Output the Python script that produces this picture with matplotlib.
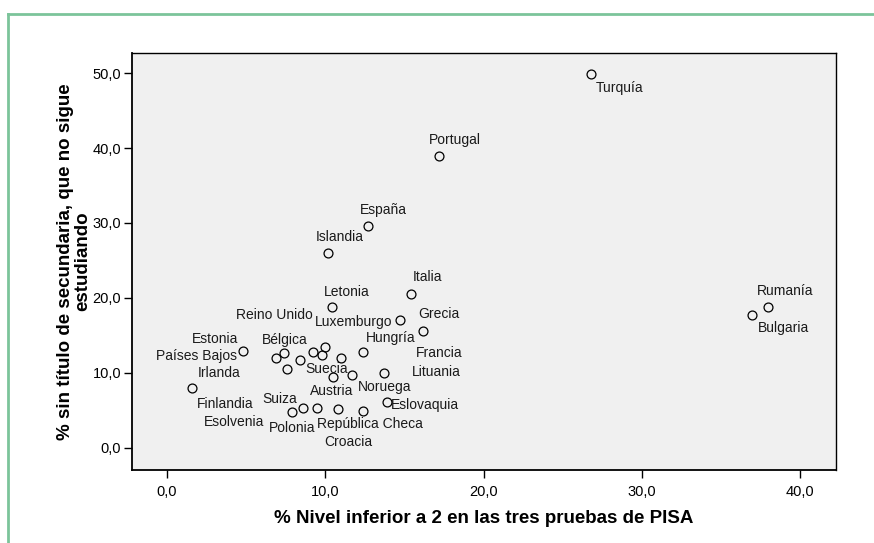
import matplotlib
matplotlib.use("Agg")
import matplotlib.pyplot as plt
from matplotlib.lines import Line2D

plt.rcParams['font.family'] = ['Liberation Sans', 'DejaVu Sans']

# Datos: % nivel < 2 en PISA (x) y % sin titulo de secundaria que no sigue estudiando (y)
paises = ['Turquía', 'Portugal', 'España', 'Islandia', 'Italia', 'Letonia',
          'Luxemburgo', 'Grecia', 'Francia', 'Rumanía', 'Bulgaria', 'Estonia',
          'Países Bajos', 'Irlanda', 'Finlandia', 'Bélgica', 'Reino Unido',
          'Suecia', 'Austria', 'Hungría', 'Noruega', 'Lituania', 'Eslovaquia',
          'Suiza', 'Esolvenia', 'Polonia', 'República Checa', 'Croacia',
          '', '', '', '', '']
pisa = [26.8, 17.2, 12.7, 10.2, 15.4, 10.4,
        14.7, 16.2, 16.2, 38.0, 37.0, 4.8,
        4.8, 1.6, 1.6, 7.4, 10.0,
        9.8, 10.5, 12.4, 11.7, 13.7, 13.9,
        8.6, 7.9, 9.5, 12.4, 10.8,
        6.9, 8.4, 7.6, 9.2, 11.0]
abandono = [49.9, 39.0, 29.6, 26.0, 20.5, 18.8,
            17.1, 15.6, 15.6, 18.8, 17.7, 12.9,
            12.9, 8.0, 8.0, 12.6, 13.5,
            12.4, 9.4, 12.7, 9.7, 10.0, 6.1,
            5.3, 4.8, 5.3, 4.9, 5.2,
            12.0, 11.7, 10.5, 12.7, 12.0]

xticks = [0, 10, 20, 30, 40]
yticks = [0, 10, 20, 30, 40, 50]

# Posicion de las etiquetas respecto al punto (pixeles, dy hacia abajo)
etiquetas = {
    'Turquía': (5, 14.4, 'left'),
    'Portugal': (16, -16, 'center'),
    'España': (15.7, -16.4, 'center'),
    'Islandia': (11.7, -16, 'center'),
    'Italia': (17.2, -16.7, 'center'),
    'Letonia': (15.5, -14.8, 'center'),
    'Luxemburgo': (-7.3, 2.4, 'right'),
    'Grecia': (15.3, -16.3, 'center'),
    'Francia': (16, 22, 'center'),
    'Rumanía': (17, -15.4, 'center'),
    'Bulgaria': (30.6, 13.3, 'center'),
    'Estonia': (-28.2, -12.4, 'center'),
    'Países Bajos': (-6, 5.3, 'right'),
    'Irlanda': (27.2, -14.8, 'center'),
    'Finlandia': (33.1, 16.5, 'center'),
    'Bélgica': (0.2, -13.4, 'center'),
    'Reino Unido': (-13, -32, 'right'),
    'Suecia': (4.5, 14.6, 'center'),
    'Austria': (-1.8, 14.2, 'center'),
    'Hungría': (27, -14.3, 'center'),
    'Noruega': (32, 11.8, 'center'),
    'Lituania': (27.7, -0.3, 'left'),
    'Eslovaquia': (4, 3.5, 'left'),
    'Suiza': (-23.2, -9, 'center'),
    'Esolvenia': (-58, 10.6, 'center'),
    'Polonia': (-25.3, 20.6, 'center'),
    'República Checa': (6.3, 13.6, 'center'),
    'Croacia': (10.2, 33, 'center'),
}

fig = plt.figure(figsize=(8.74, 5.43), dpi=100)
ax = fig.add_axes([0.151, 0.1344, 0.8055, 0.7686])
ax.set_facecolor('#f0f0f0')

# puntos repetidos se dibujan una sola vez
unicos = sorted(set(zip(pisa, abandono)))
ax.plot([p[0] for p in unicos], [p[1] for p in unicos], linestyle='none',
        marker='o', markersize=6.4, markerfacecolor='none',
        markeredgecolor='black', markeredgewidth=0.9)

for nombre, x, y in zip(paises, pisa, abandono):
    if nombre in etiquetas:
        dx, dy, ha = etiquetas[nombre]
        ax.annotate(nombre, (x, y), xytext=(dx, -dy), textcoords='offset pixels',
                    ha=ha, va='center', fontsize=10, color='#1a1a1a')

ax.set_xlim(-2.22, 42.28)
ax.set_ylim(-3.0, 52.75)
ax.set_xticks(xticks)
ax.set_yticks(yticks)
ax.set_xticklabels([f"{v:.1f}".replace('.', ',') for v in xticks])
ax.set_yticklabels([f"{v:.1f}".replace('.', ',') for v in yticks])
ax.tick_params(direction='out', length=5.8, width=1, labelsize=10.5, pad=2)
ax.tick_params(axis='x', pad=5)

for s in ax.spines.values():
    s.set_color('black')
    s.set_linewidth(1)
ax.spines['left'].set_linewidth(1.3)
ax.spines['bottom'].set_linewidth(1.3)

ax.set_xlabel('% Nivel inferior a 2 en las tres pruebas de PISA',
              fontsize=13.5, fontweight='bold', labelpad=8)
ax.set_ylabel('% sin título de secundaria, que no sigue\nestudiando',
              fontsize=13.5, fontweight='bold', labelpad=1, linespacing=1.0)

# Marco verde
verde = '#7cc49a'
fig.add_artist(Line2D([0.0092, 0.0092], [0.0, 0.9742], color=verde, lw=2,
                      transform=fig.transFigure))
fig.add_artist(Line2D([0.0092, 1.0], [0.9742, 0.9742], color=verde, lw=2,
                      transform=fig.transFigure))

fig.savefig('out.png', dpi=100)
